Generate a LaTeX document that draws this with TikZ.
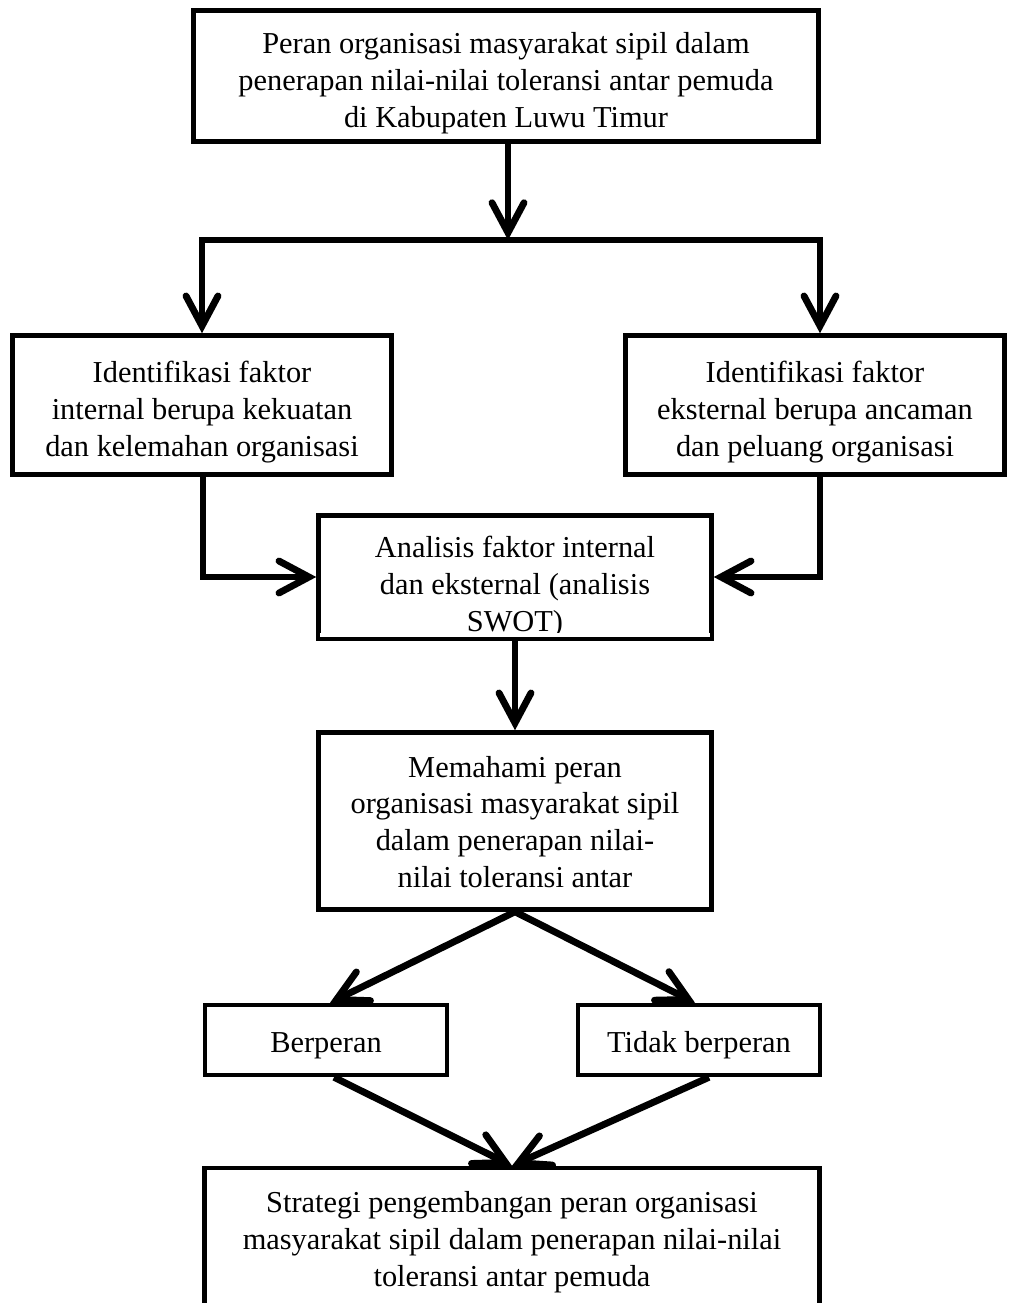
\documentclass[tikz,border=0pt]{standalone}
\usepackage{fontspec}
\setmainfont{Liberation Serif}
\usetikzlibrary{arrows.meta, positioning, calc}

% teks kotak, diturunkan sedikit
\newcommand{\teks}[2]{\raisebox{-#1}[\height][\depth]{\begin{tabular}{@{}c@{}}#2\end{tabular}}}

\begin{document}
\begin{tikzpicture}[x=0.02cm, y=-0.02cm,
    box/.style={draw, line width=2.6pt, inner sep=0pt,
        font=\fontsize{17.3}{21}\selectfont},
    arr/.style={line width=3.9pt, -{Straight Barb[length=0.6cm, width=0.64cm, line cap=round]}},
    lin/.style={line width=3.9pt}]
    \clip (0,0) rectangle (1013,1303);
    % kotak
    \node[box, minimum width=12.5cm, minimum height=2.62cm] (peran) at (506,76)
        {\teks{0.15cm}{Peran organisasi masyarakat sipil dalam\\penerapan nilai-nilai toleransi antar pemuda\\di Kabupaten Luwu Timur}};
    \node[box, minimum width=7.58cm, minimum height=2.78cm] (internal) at (202,405)
        {\teks{0.14cm}{Identifikasi faktor\\internal berupa kekuatan\\dan kelemahan organisasi}};
    \node[box, minimum width=7.58cm, minimum height=2.78cm] (eksternal) at (815,405)
        {\teks{0.14cm}{Identifikasi faktor\\eksternal berupa ancaman\\dan peluang organisasi}};
    \node[box, minimum width=7.86cm, minimum height=2.46cm] (swot) at (515,577)
        {\teks{0.2cm}{Analisis faktor internal\\dan eksternal (analisis\\SWOT)}};
    \fill[white] ($(swot.south west)+(4,-8)$) rectangle ($(swot.south east)+(-4,-4)$);
    \node[box, minimum width=7.86cm, minimum height=3.54cm] (paham) at (515,821)
        {\teks{0.08cm}{Memahami peran\\organisasi masyarakat sipil\\dalam penerapan nilai-\\nilai toleransi antar}};
    \node[box, minimum width=4.84cm, minimum height=1.4cm] (ya) at (326,1040)
        {\teks{0.11cm}{Berperan}};
    \node[box, minimum width=4.84cm, minimum height=1.4cm] (tidak) at (699,1040)
        {\teks{0.1cm}{Tidak berperan}};
    \node[box, minimum width=12.3cm, minimum height=2.84cm] (strategi) at (512,1239)
        {\teks{0.06cm}{Strategi pengembangan peran organisasi\\masyarakat sipil dalam penerapan nilai-nilai\\toleransi antar pemuda}};
    % panah
    \coordinate (cabang) at (508,240);
    \coordinate (kanan) at ($(eksternal.north |- cabang)+(5,0)$);
    \draw[arr] (peran.south -| cabang) -- (cabang);
    \draw[lin, line cap=rect] (internal.north |- cabang) -- (kanan);
    \draw[arr] (internal.north |- cabang) -- (internal.north);
    \draw[arr] (kanan) -- (kanan |- eksternal.north);
    \draw[arr] ($(internal.south)+(1,0)$) |- (swot.west);
    \draw[arr] (kanan |- eksternal.south) |- (swot.east);
    \draw[arr] (swot.south) -- (paham.north);
    \draw[arr] (paham.south) -- ($(ya.north)+(4,0)$);
    \draw[arr] (paham.south) -- ($(tidak.north)+(-4,0)$);
    \draw[arr] ($(ya.south)+(8,0)$) -- (strategi.north);
    \draw[arr] ($(tidak.south)+(10,0)$) -- (strategi.north);
\end{tikzpicture}
\end{document}
